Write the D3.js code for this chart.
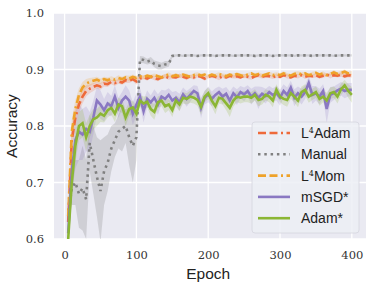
<!DOCTYPE html>
<html lang="en">
<head>
  <meta charset="UTF-8">
  <title>Accuracy vs Epoch</title>
  <script src="https://d3js.org/d3.v7.min.js"></script>
  <style>
    body { margin: 0; background: white; }
    .lab { font-family: "Liberation Sans", Arial, sans-serif; fill: #222; }
  </style>
</head>
<body>
  <svg width="373" height="290"></svg>

  <script>
    // epochs 5..400, one value every 5 epochs
    const epochs = d3.range(5, 405, 5);

    const l4adam = [
      0.630,0.775,0.815,0.838,0.852,0.862,0.866,0.869,0.872,0.870,
      0.875,0.874,0.878,0.876,0.879,0.877,0.881,0.880,0.883,0.879,
      0.884,0.886,0.884,0.887,0.885,0.883,0.886,0.888,0.885,0.887,
      0.886,0.889,0.887,0.885,0.888,0.886,0.889,0.887,0.884,0.887,
      0.889,0.887,0.885,0.888,0.886,0.889,0.887,0.888,0.886,0.889,
      0.887,0.885,0.888,0.890,0.887,0.889,0.888,0.886,0.889,0.887,
      0.890,0.888,0.886,0.889,0.888,0.890,0.887,0.889,0.888,0.890,
      0.887,0.889,0.891,0.888,0.890,0.889,0.891,0.888,0.890,0.889
    ];
    const l4adamStd = [
      0.020,0.025,0.018,0.015,0.012,0.010,0.008,0.007,0.006,0.006,
      0.005,0.005,0.004,0.005,0.004,0.004,0.005,0.004,0.004,0.006,
      0.004,0.003,0.004,0.003,0.004,0.004,0.003,0.004,0.003,0.004,
      0.003,0.004,0.003,0.004,0.003,0.004,0.003,0.003,0.004,0.003,
      0.004,0.003,0.004,0.003,0.003,0.004,0.003,0.004,0.003,0.003,
      0.004,0.003,0.003,0.004,0.003,0.004,0.003,0.003,0.004,0.003,
      0.003,0.004,0.003,0.003,0.004,0.003,0.004,0.003,0.003,0.004,
      0.003,0.004,0.003,0.004,0.003,0.003,0.004,0.003,0.004,0.003
    ];

    const manual = [
      0.640,0.690,0.700,0.680,0.690,0.670,0.770,0.740,0.710,0.685,
      0.720,0.735,0.760,0.775,0.790,0.795,0.800,0.780,0.765,0.780,
      0.918,0.917,0.914,0.916,0.910,0.907,0.906,0.909,0.910,0.924,
      0.925,0.925,0.924,0.925,0.925,0.925,0.924,0.925,0.925,0.925,
      0.925,0.924,0.925,0.925,0.925,0.925,0.924,0.925,0.925,0.925,
      0.925,0.925,0.924,0.925,0.925,0.925,0.925,0.924,0.925,0.925,
      0.925,0.925,0.925,0.924,0.925,0.925,0.925,0.925,0.924,0.925,
      0.925,0.925,0.925,0.925,0.924,0.925,0.925,0.925,0.925,0.925
    ];
    const manualStd = [
      0.020,0.030,0.040,0.060,0.075,0.070,0.050,0.060,0.070,0.090,
      0.060,0.050,0.040,0.030,0.030,0.040,0.030,0.050,0.065,0.040,
      0.006,0.006,0.005,0.006,0.006,0.007,0.006,0.006,0.005,0.003,
      0.002,0.002,0.002,0.002,0.002,0.002,0.002,0.002,0.002,0.002,
      0.002,0.002,0.002,0.002,0.002,0.002,0.002,0.002,0.002,0.002,
      0.002,0.002,0.002,0.002,0.002,0.002,0.002,0.002,0.002,0.002,
      0.002,0.002,0.002,0.002,0.002,0.002,0.002,0.002,0.002,0.002,
      0.002,0.002,0.002,0.002,0.002,0.002,0.002,0.002,0.002,0.002
    ];

    const l4mom = [
      0.640,0.790,0.830,0.855,0.868,0.875,0.878,0.880,0.882,0.879,
      0.883,0.881,0.884,0.882,0.885,0.883,0.886,0.884,0.887,0.885,
      0.888,0.886,0.889,0.887,0.890,0.888,0.886,0.889,0.891,0.888,
      0.890,0.888,0.891,0.889,0.887,0.890,0.892,0.889,0.891,0.888,
      0.891,0.889,0.892,0.890,0.888,0.891,0.889,0.892,0.890,0.888,
      0.891,0.893,0.890,0.892,0.889,0.891,0.893,0.890,0.892,0.890,
      0.893,0.891,0.889,0.892,0.894,0.891,0.893,0.890,0.892,0.894,
      0.891,0.893,0.890,0.892,0.895,0.892,0.894,0.896,0.893,0.894
    ];
    const l4momStd = [
      0.020,0.022,0.016,0.012,0.010,0.008,0.007,0.006,0.005,0.005,
      0.004,0.005,0.004,0.004,0.005,0.004,0.004,0.005,0.004,0.004,
      0.003,0.004,0.003,0.004,0.003,0.003,0.004,0.003,0.004,0.003,
      0.004,0.003,0.003,0.004,0.003,0.004,0.003,0.004,0.003,0.003,
      0.003,0.004,0.003,0.003,0.004,0.003,0.004,0.003,0.003,0.004,
      0.003,0.003,0.004,0.003,0.004,0.003,0.003,0.004,0.003,0.004,
      0.004,0.003,0.003,0.004,0.003,0.004,0.003,0.003,0.004,0.003,
      0.003,0.004,0.003,0.003,0.004,0.003,0.004,0.004,0.003,0.004
    ];

    const msgd = [
      0.610,0.720,0.775,0.790,0.785,0.795,0.790,0.815,0.845,0.838,
      0.828,0.840,0.835,0.852,0.832,0.845,0.852,0.845,0.822,0.838,
      0.852,0.826,0.848,0.842,0.850,0.838,0.852,0.848,0.855,0.845,
      0.850,0.842,0.856,0.848,0.855,0.862,0.858,0.832,0.850,0.856,
      0.848,0.855,0.860,0.852,0.857,0.845,0.858,0.851,0.860,0.856,
      0.862,0.852,0.858,0.850,0.857,0.853,0.860,0.855,0.858,0.850,
      0.862,0.855,0.868,0.850,0.858,0.852,0.860,0.876,0.855,0.858,
      0.852,0.862,0.830,0.855,0.858,0.863,0.866,0.862,0.864,0.864
    ];
    const msgdStd = [
      0.020,0.040,0.050,0.050,0.045,0.040,0.035,0.030,0.025,0.025,
      0.020,0.020,0.018,0.020,0.018,0.015,0.020,0.018,0.020,0.020,
      0.015,0.020,0.015,0.012,0.015,0.018,0.012,0.015,0.012,0.015,
      0.012,0.015,0.012,0.014,0.012,0.010,0.013,0.018,0.012,0.014,
      0.013,0.012,0.010,0.014,0.012,0.016,0.012,0.014,0.011,0.012,
      0.010,0.014,0.012,0.020,0.012,0.013,0.011,0.012,0.013,0.014,
      0.012,0.013,0.012,0.015,0.012,0.014,0.012,0.012,0.016,0.013,
      0.014,0.012,0.025,0.014,0.012,0.011,0.012,0.013,0.012,0.012
    ];

    const adam = [
      0.600,0.700,0.765,0.800,0.805,0.780,0.800,0.812,0.815,0.822,
      0.818,0.828,0.832,0.822,0.838,0.835,0.815,0.830,0.833,0.822,
      0.845,0.840,0.843,0.830,0.825,0.842,0.845,0.835,0.838,0.828,
      0.845,0.838,0.850,0.848,0.852,0.850,0.846,0.834,0.852,0.858,
      0.845,0.835,0.850,0.848,0.840,0.832,0.845,0.852,0.850,0.852,
      0.852,0.850,0.855,0.846,0.848,0.855,0.852,0.845,0.864,0.852,
      0.848,0.846,0.858,0.852,0.845,0.860,0.864,0.852,0.856,0.860,
      0.848,0.852,0.845,0.858,0.860,0.852,0.865,0.872,0.862,0.855
    ];
    const adamStd = [
      0.010,0.030,0.030,0.025,0.025,0.025,0.020,0.018,0.015,0.015,
      0.012,0.013,0.012,0.015,0.012,0.012,0.015,0.012,0.012,0.013,
      0.010,0.012,0.010,0.012,0.014,0.010,0.010,0.012,0.010,0.012,
      0.010,0.012,0.010,0.010,0.011,0.010,0.010,0.014,0.010,0.010,
      0.011,0.014,0.010,0.010,0.012,0.016,0.011,0.010,0.010,0.010,
      0.010,0.010,0.010,0.011,0.010,0.010,0.010,0.012,0.010,0.010,
      0.011,0.012,0.010,0.010,0.012,0.010,0.010,0.011,0.010,0.010,
      0.012,0.010,0.014,0.010,0.010,0.012,0.010,0.010,0.012,0.014
    ];

    const series = [
      { name: "L", sup: "4", rest: "Adam", mean: l4adam, std: l4adamStd, color: "#ee6a3a", dash: "8 3.5 8 3.5 2 3.5" },
      { name: "Manual", mean: manual, std: manualStd, color: "#808080", dash: "2.5 3.8" },
      { name: "L", sup: "4", rest: "Mom", mean: l4mom, std: l4momStd, color: "#eea22a", dash: "8 3.5 8 3.5 2 3.5" },
      { name: "mSGD*", mean: msgd, std: msgdStd, color: "#8a78c2", dash: null },
      { name: "Adam*", mean: adam, std: adamStd, color: "#8bb634", dash: null }
    ];

    const xTicks = [0, 100, 200, 300, 400];
    const yTicks = [0.6, 0.7, 0.8, 0.9, 1.0];

    const margin = { top: 13, right: 7, bottom: 51, left: 54 };
    const width = 373 - margin.left - margin.right;
    const height = 290 - margin.top - margin.bottom;

    const svg = d3.select("svg");
    const g = svg.append("g")
      .attr("transform", "translate(" + margin.left + "," + margin.top + ")");

    const x = d3.scaleLinear().domain([-14.75, 419.75]).range([0, width]);
    const y = d3.scaleLinear().domain([0.6, 1.0]).range([height, 0]);

    g.append("rect").attr("width", width).attr("height", height).attr("fill", "#eaeaf2");

    g.append("defs").append("clipPath").attr("id", "clip")
      .append("rect").attr("width", width).attr("height", height);

    // grid
    g.selectAll(".gx").data(xTicks).enter().append("line")
      .attr("x1", d => x(d)).attr("x2", d => x(d))
      .attr("y1", 0).attr("y2", height)
      .attr("stroke", "white").attr("stroke-width", 1.3);
    g.selectAll(".gy").data(yTicks).enter().append("line")
      .attr("y1", d => y(d)).attr("y2", d => y(d))
      .attr("x1", 0).attr("x2", width)
      .attr("stroke", "white").attr("stroke-width", 1.3);

    // axes (no spines, only labels)
    const xAxis = g.append("g")
      .attr("transform", "translate(0," + height + ")")
      .call(d3.axisBottom(x).tickValues(xTicks).tickSize(0).tickPadding(12).tickFormat(d3.format("d")));
    const yAxis = g.append("g")
      .call(d3.axisLeft(y).tickValues(yTicks).tickSize(0).tickPadding(10).tickFormat(d3.format(".1f")));
    [xAxis, yAxis].forEach(a => {
      a.select(".domain").remove();
      a.selectAll("text")
        .style("font-family", "'DejaVu Serif', serif")
        .style("font-size", "11.5px")
        .style("fill", "#333");
    });

    const plot = g.append("g").attr("clip-path", "url(#clip)");

    const band = s => d3.area()
      .x((d, i) => x(epochs[i]))
      .y0((d, i) => y(s.mean[i] - s.std[i]))
      .y1((d, i) => y(s.mean[i] + s.std[i]));
    const line = d3.line()
      .x((d, i) => x(epochs[i]))
      .y(d => y(d));

    series.forEach(s => {
      plot.append("path")
        .datum(s.mean)
        .attr("d", band(s))
        .attr("fill", s.color)
        .attr("fill-opacity", s.name === "Manual" ? 0.25 : 0.2);
    });
    series.forEach(s => {
      plot.append("path")
        .datum(s.mean)
        .attr("d", line)
        .attr("fill", "none")
        .attr("stroke", s.color)
        .attr("stroke-width", 2.6)
        .attr("stroke-dasharray", s.dash);
    });

    // axis labels
    svg.append("text").attr("class", "lab")
      .attr("x", margin.left + x(200)).attr("y", 279)
      .attr("text-anchor", "middle")
      .attr("font-size", 15.5)
      .text("Epoch");
    svg.append("text").attr("class", "lab")
      .attr("transform", "translate(17," + (margin.top + height / 2) + ") rotate(-90)")
      .attr("text-anchor", "middle")
      .attr("font-size", 15.5)
      .text("Accuracy");

    // legend
    const lg = svg.append("g").attr("transform", "translate(252,122)");
    lg.append("rect")
      .attr("width", 107).attr("height", 111).attr("rx", 3)
      .attr("fill", "#eceef4").attr("fill-opacity", 0.85)
      .attr("stroke", "#d6d6de").attr("stroke-width", 0.8);
    series.forEach((s, i) => {
      const row = lg.append("g").attr("transform", "translate(0," + (11 + i * 21.3) + ")");
      row.append("line")
        .attr("x1", 6).attr("x2", 38).attr("y1", 0).attr("y2", 0)
        .attr("stroke", s.color).attr("stroke-width", 2.6)
        .attr("stroke-dasharray", s.dash);
      const t = row.append("text").attr("class", "lab")
        .attr("x", 49).attr("y", 5)
        .attr("font-size", 14);
      if (s.sup) {
        t.append("tspan").text(s.name);
        t.append("tspan").style("font-family", "'DejaVu Serif', serif")
          .attr("font-size", 8).attr("dy", -5).text(s.sup);
        t.append("tspan").attr("dy", 5).text(s.rest);
      } else {
        t.text(s.name);
      }
    });
  </script>
</body>
</html>
